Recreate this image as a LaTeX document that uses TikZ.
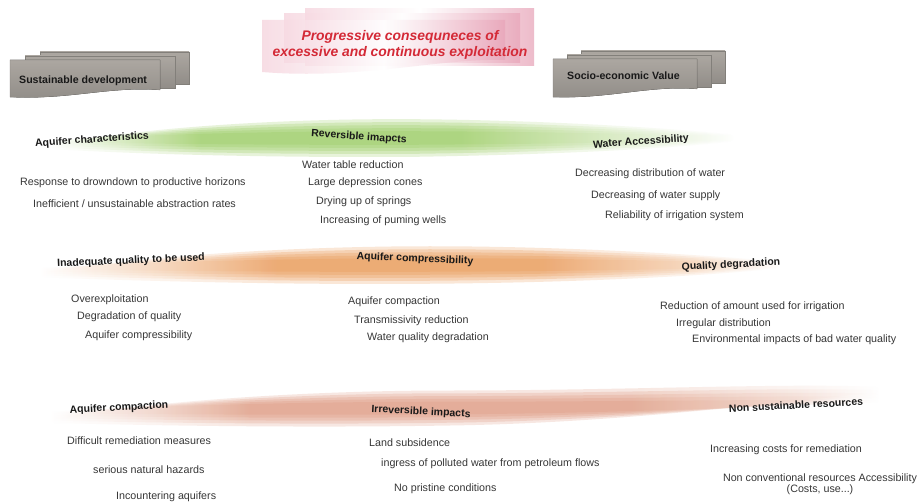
\documentclass[tikz,border=0pt]{standalone}
\usepackage{fontspec}
\setmainfont{Liberation Sans}
\definecolor{gb}{RGB}{150,202,90}
\colorlet{gbh}{gb!45!white}
\definecolor{ob}{RGB}{233,146,75}
\colorlet{obh}{ob!45!white}
\definecolor{sb}{RGB}{222,150,123}
\colorlet{sbh}{sb!45!white}
\definecolor{titlered}{RGB}{212,42,55}
\definecolor{bodytxt}{RGB}{55,55,55}
\definecolor{headtxt}{RGB}{25,25,25}
\definecolor{boxtop}{RGB}{172,167,161}
\definecolor{boxbot}{RGB}{145,141,136}
\definecolor{pinkA}{RGB}{232,165,185}
\definecolor{pinkB}{RGB}{245,210,220}
\pgfdeclarehorizontalshading{greensh}{100bp}{color(0bp)=(white); color(25bp)=(white); color(30bp)=(gbh); color(36bp)=(gb); color(55bp)=(gb); color(66bp)=(gbh); color(75bp)=(white); color(100bp)=(white)}
\pgfdeclarehorizontalshading{orangesh}{100bp}{color(0bp)=(white); color(25bp)=(white); color(33bp)=(obh); color(41bp)=(ob); color(59bp)=(ob); color(69bp)=(obh); color(75bp)=(white); color(100bp)=(white)}
\pgfdeclarehorizontalshading{salmonsh}{100bp}{color(0bp)=(white); color(25bp)=(white); color(31bp)=(sbh); color(37bp)=(sb); color(60bp)=(sb); color(70bp)=(sbh); color(75bp)=(white); color(100bp)=(white)}
\tikzset{
  body/.style={anchor=west, inner sep=0pt, text=bodytxt, font=\fontsize{10.7}{12.5}\selectfont},
  head/.style={inner sep=0pt, text=headtxt, font=\fontsize{10.5}{12}\selectfont\bfseries},
  boxlabel/.style={anchor=west, inner sep=0pt, text=headtxt, font=\fontsize{10.6}{12}\selectfont\bfseries},
  titletxt/.style={inner sep=0pt, text=titlered, font=\fontsize{13.9}{16.5}\selectfont\bfseries\itshape, align=center},
  greybox/.style={top color=boxtop, bottom color=boxbot, draw=boxbot!90!black, line width=0.2pt},
  pinklayer/.style={left color=pinkB, right color=pinkA, middle color=white, opacity=0.75},
}
\begin{document}
\begin{tikzpicture}[x=1pt,y=-1pt]
\useasboundingbox (0,0) rectangle (917,502);
\fill[white] (0,0) rectangle (917,502);

% ---- bands ----
\foreach \s/\o in {1.25/0.22,1.05/0.25,0.85/0.25,0.65/0.25,0.45/0.25}{
  \shade[shading=greensh, opacity=\o, shift={(0,138)}, yscale=\s]
    (55,5) .. controls (140,-8) and (280,-16) .. (420,-15) .. controls (560,-14) and (680,-7) .. (730,-3)
    .. controls (735,0) .. (730,3) .. controls (660,9) and (560,13) .. (420,15)
    .. controls (280,16) and (140,13) .. (55,9) .. controls (50,7) .. (55,5) -- cycle;
  \shade[shading=orangesh, opacity=\o, shift={(0,265)}, yscale=\s]
    (45,6) .. controls (150,-8) and (300,-15) .. (430,-15) .. controls (580,-15) and (720,-7) .. (775,-3)
    .. controls (780,0) .. (775,3) .. controls (700,9) and (580,14) .. (430,15)
    .. controls (300,16) and (150,13) .. (45,10) .. controls (40,8) .. (45,6) -- cycle;
  \shade[shading=salmonsh, opacity=\o, shift={(0,408)}, yscale=\s]
    (55,8) .. controls (150,-5) and (300,-14) .. (450,-14) .. controls (620,-14) and (780,-20) .. (875,-17)
    .. controls (880,-15) .. (875,-12) .. controls (780,-5) and (620,12) .. (450,14)
    .. controls (300,16) and (150,14) .. (55,12) .. controls (50,10) .. (55,8) -- cycle;
}

% ---- title banner ----
\shade[pinklayer] (305,9) rectangle (534,66);
\shade[pinklayer] (284,14) rectangle (520,63);
\shade[pinklayer] (262,20) -- (505,20) -- (505,60) .. controls (440,58) and (360,80) .. (262,72) -- cycle;
\node[titletxt] (title) at (400,45) {Progressive consequneces of\\excessive and continuous exploitation};

% ---- grey boxes ----
\fill[greybox] (40,52) rectangle (189,84);
\fill[greybox] (25,56) rectangle (175,88);
\fill[greybox] (10,60) -- (160,60) -- (160,90) .. controls (110,86) and (70,100) .. (10,97) -- cycle;
\node[boxlabel] (sustain) at (19,81) {Sustainable development};

\fill[greybox] (581,51) rectangle (725,83);
\fill[greybox] (567,55) rectangle (711,87);
\fill[greybox] (553,59) -- (697,59) -- (697,89) .. controls (650,85) and (610,99) .. (553,97) -- cycle;
\node[boxlabel] (socio) at (567,76) {Socio-economic Value};

% ---- row 1 ----
\node[head, rotate=4] (h11) at (92,140) {Aquifer characteristics};
\node[head, rotate=-4] (h12) at (359,137) {Reversible imapcts};
\node[head, rotate=4] (h13) at (641,142) {Water Accessibility};

\node[body] (t111) at (20,183) {Response to drowndown to productive horizons};
\node[body] (t112) at (33,204) {Inefficient / unsustainable abstraction rates};

\node[body] (t121) at (302,165) {Water table reduction};
\node[body] (t122) at (308,183) {Large depression cones};
\node[body] (t123) at (316,202) {Drying up of springs};
\node[body] (t124) at (320,221) {Increasing of puming wells};

\node[body] (t131) at (575,174) {Decreasing distribution of water};
\node[body] (t132) at (591,196) {Decreasing of water supply};
\node[body] (t133) at (605,216) {Reliability of irrigation system};

% ---- row 2 ----
\node[head, rotate=2.5] (h21) at (131,261) {Inadequate quality to be used};
\node[head, rotate=-2.5] (h22) at (415,259) {Aquifer compressibility};
\node[head, rotate=3] (h23) at (731,265) {Quality degradation};

\node[body] (t211) at (71,300) {Overexploitation};
\node[body] (t212) at (77,317) {Degradation of quality};
\node[body] (t213) at (85,336) {Aquifer compressibility};

\node[body] (t221) at (348,302) {Aquifer compaction};
\node[body] (t222) at (354,321) {Transmissivity reduction};
\node[body] (t223) at (367,338) {Water quality degradation};

\node[body] (t231) at (660,307) {Reduction of amount used for irrigation};
\node[body] (t232) at (676,324) {Irregular distribution};
\node[body] (t233) at (692,340) {Environmental impacts of bad water quality};

% ---- row 3 ----
\node[head, rotate=3] (h31) at (119,408) {Aquifer compaction};
\node[head, rotate=-3] (h32) at (421,412) {Irreversible impacts};
\node[head, rotate=3] (h33) at (796,405) {Non sustainable resources};

\node[body] (t311) at (67,441) {Difficult remediation measures};
\node[body] (t312) at (93,470) {serious natural hazards};
\node[body] (t313) at (116,497) {Incountering aquifers};

\node[body] (t321) at (369,443) {Land subsidence};
\node[body] (t322) at (381,464) {ingress of polluted water from petroleum flows};
\node[body] (t323) at (394,489) {No pristine conditions};

\node[body] (t331) at (710,450) {Increasing costs for remediation};
\node[body, anchor=center, align=center] (t332) at (820,484) {Non conventional resources Accessibility\\[-1pt](Costs, use...)};
\end{tikzpicture}
\end{document}
